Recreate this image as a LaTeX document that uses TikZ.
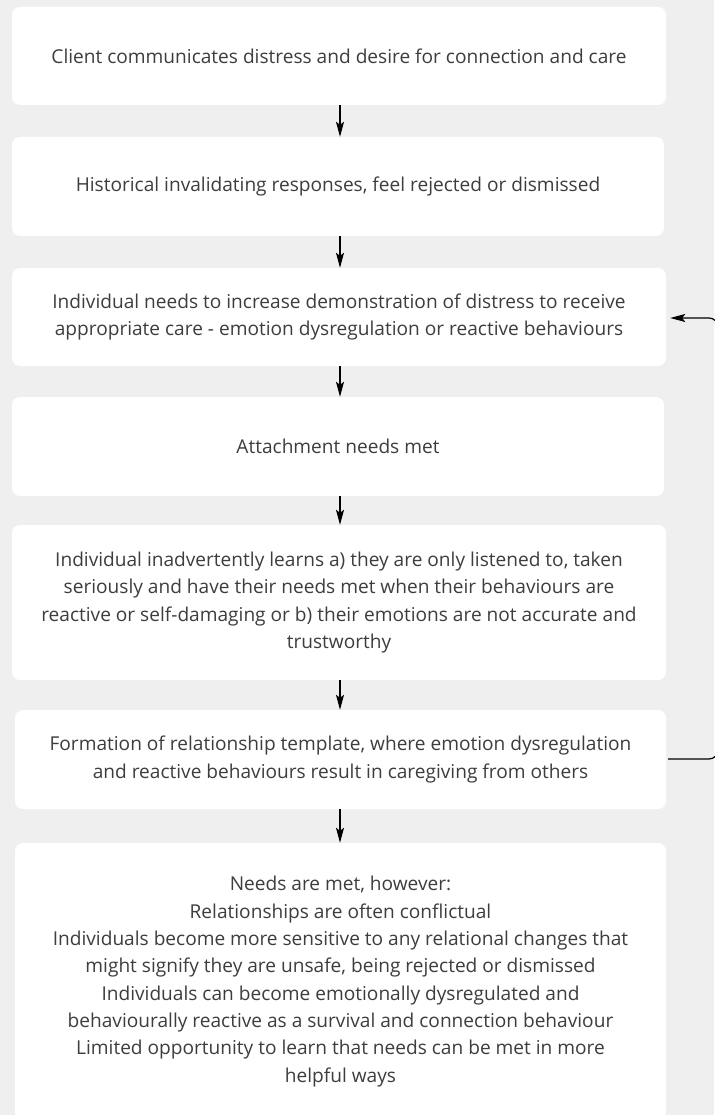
\documentclass[tikz,border=0pt]{standalone}
\usepackage{fontspec}
\setmainfont{Open Sans}
\usetikzlibrary{arrows.meta}
\definecolor{bg}{HTML}{EFEFEF}
\definecolor{txt}{HTML}{3D3D3D}
\tikzset{
  box/.style={fill=white, rounded corners=8pt, inner sep=0pt, align=center,
    text=txt, font=\fontsize{19.1}{27.3}\selectfont},
  flow/.style={draw=black, line width=1.2pt, -{Stealth[length=15pt,width=8pt,inset=3pt]}},
}
\begin{document}
\begin{tikzpicture}[x=1pt,y=-1pt]
\useasboundingbox (0,0) rectangle (714,1115);
\fill[bg] (0,0) rectangle (714,1115);
\node[box, minimum width=654pt, minimum height=98pt] (b1) at (339,56)
  {Client communicates distress and desire for connection and care};
\node[box, minimum width=652pt, minimum height=99pt] (b2) at (338,186.5)
  {Historical invalidating responses, feel rejected or dismissed};
\node[box, minimum width=654pt, minimum height=98pt] (b3) at (339,317)
  {Individual needs to increase demonstration of distress to receive\\appropriate care - emotion dysregulation or reactive behaviours};
\node[box, minimum width=652pt, minimum height=99pt] (b4) at (338,446.5)
  {Attachment needs met};
\node[box, minimum width=654pt, minimum height=155pt] (b5) at (339,602.5)
  {Individual inadvertently learns a) they are only listened to, taken\\seriously and have their needs met when their behaviours are\\reactive or self-damaging or b) their emotions are not accurate and\\trustworthy};
\node[box, minimum width=651pt, minimum height=99pt] (b6) at (340.5,759.5)
  {Formation of relationship template, where emotion dysregulation\\and reactive behaviours result in caregiving from others};
\node[box, minimum width=651pt, minimum height=277pt] (b7) at (340.5,981.5)
  {Needs are met, however:\\Relationships are often conflictual\\Individuals become more sensitive to any relational changes that\\might signify they are unsafe, being rejected or dismissed\\Individuals can become emotionally dysregulated and\\behaviourally reactive as a survival and connection behaviour\\Limited opportunity to learn that needs can be met in more\\helpful ways};
\draw[flow] (b1.south -| 340,0) -- (b2.north -| 340,0);
\draw[flow] (b2.south -| 340,0) -- (b3.north -| 340,0);
\draw[flow] (b3.south -| 340,0) -- (b4.north -| 340,0);
\draw[flow] (b4.south -| 340,0) -- (b5.north -| 340,0);
\draw[flow] (b5.south -| 340,0) -- (b6.north -| 340,0);
\draw[flow] (b6.south -| 340,0) -- (b7.north -| 340,0);
\coordinate (lb) at (718,759);
\coordinate (lt) at (718,318);
\draw[flow, rounded corners=9pt] ([xshift=2pt]b6.east |- 0,759) -- (lb) -- (lt) -- ([xshift=4pt]b3.east |- 0,318);
\end{tikzpicture}
\end{document}
